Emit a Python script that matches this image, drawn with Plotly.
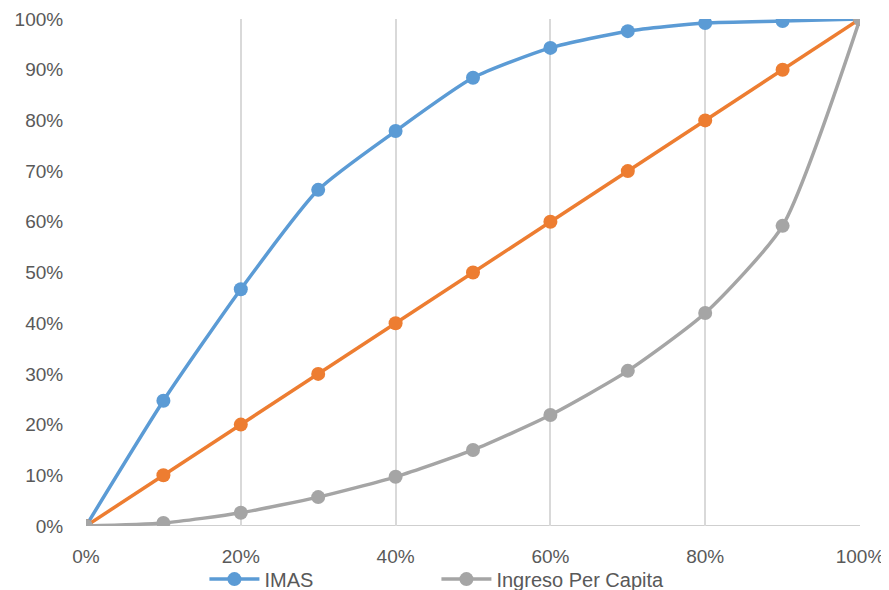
import plotly.graph_objects as go

x_vals = [0, 0.1, 0.2, 0.3, 0.4, 0.5, 0.6, 0.7, 0.8, 0.9, 1.0]
imas = [0, 0.247, 0.467, 0.663, 0.779, 0.884, 0.943, 0.976, 0.992, 0.996, 1.0]
equality = [0, 0.1, 0.2, 0.3, 0.4, 0.5, 0.6, 0.7, 0.8, 0.9, 1.0]
ingreso = [0, 0.006, 0.026, 0.057, 0.097, 0.150, 0.219, 0.306, 0.420, 0.592, 1.0]

fig = go.Figure()
fig.add_trace(go.Scatter(x=x_vals, y=imas, name="IMAS", mode="lines+markers",
                         line=dict(color="#5B9BD5", width=3.5, shape="spline", smoothing=0.6),
                         marker=dict(size=14, color="#5B9BD5")))
fig.add_trace(go.Scatter(x=x_vals, y=equality, name="Igualdad", mode="lines+markers",
                         showlegend=False,
                         line=dict(color="#ED7D31", width=3.5),
                         marker=dict(size=14, color="#ED7D31")))
fig.add_trace(go.Scatter(x=x_vals, y=ingreso, name="Ingreso Per Capita", mode="lines+markers",
                         line=dict(color="#A5A5A5", width=3.5, shape="spline", smoothing=0.6),
                         marker=dict(size=14, color="#A5A5A5")))

font = dict(family="Liberation Sans, Arial, sans-serif", size=19, color="#595959")
fig.update_layout(
    width=889, height=590,
    margin=dict(l=78, r=37, t=11, b=72),
    paper_bgcolor="white", plot_bgcolor="white",
    font=font,
    showlegend=True,
    legend=dict(orientation="h", x=0.153, xanchor="left", xref="paper",
                y=0.032, yanchor="middle", yref="container",
                bgcolor="rgba(0,0,0,0)", itemwidth=50,
                font=dict(family="Liberation Sans, Arial, sans-serif", size=20, color="#595959"),
                entrywidth=167, entrywidthmode="pixels"),
    xaxis=dict(range=[0, 1], tickvals=[0, 0.2, 0.4, 0.6, 0.8, 1.0], tickformat=".0%",
               showgrid=True, gridcolor="#D9D9D9", gridwidth=1.5, zeroline=False,
               showline=False, ticks="outside", ticklen=13, tickcolor="rgba(0,0,0,0)",
               tickfont=font, automargin=False),
    yaxis=dict(range=[0, 1], tickvals=[i / 10 for i in range(11)], tickformat=".0%",
               showgrid=False, zeroline=False, showline=False,
               ticks="outside", ticklen=18, tickcolor="rgba(0,0,0,0)",
               tickfont=font, automargin=False),
)
fig.add_shape(type="line", xref="paper", yref="y", x0=0, x1=1, y0=0, y1=0,
              line=dict(color="#BFBFBF", width=1.5), layer="below")
fig.write_html("out.html")
